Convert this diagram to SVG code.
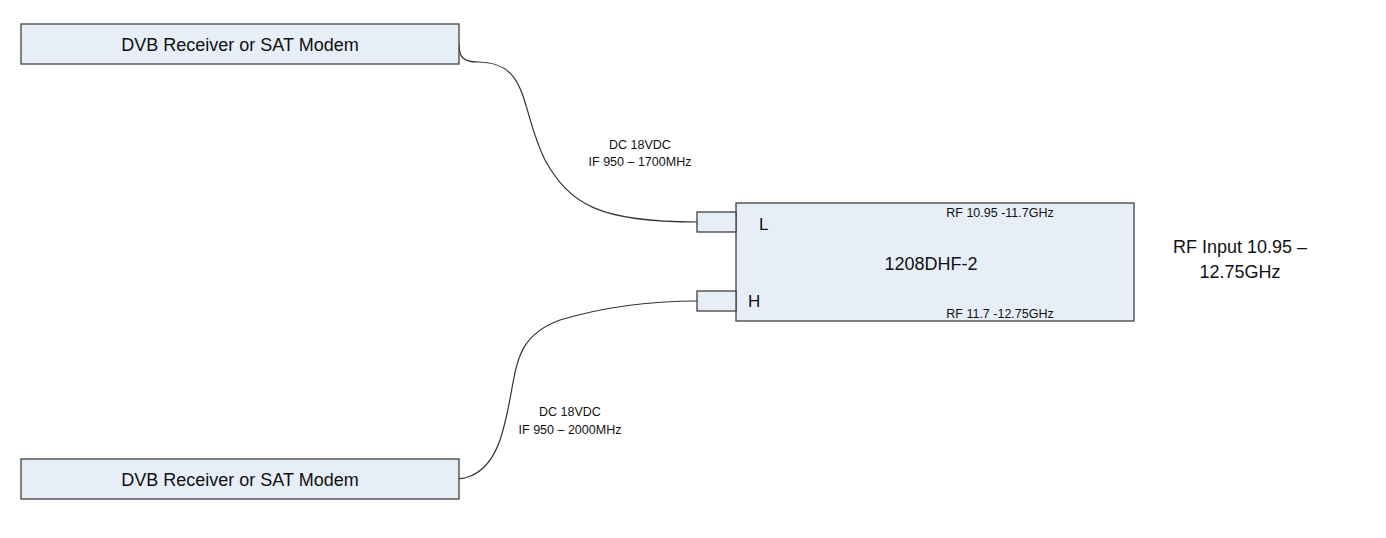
<svg xmlns="http://www.w3.org/2000/svg" width="1386" height="538" viewBox="0 0 1386 538">
<style>
.box{fill:#e8eef7;stroke:#404040;stroke-width:1.3}
.wire{fill:none;stroke:#333;stroke-width:1.2}
text{font-family:"Liberation Sans",Arial,sans-serif;fill:#111}
</style>
<rect width="1386" height="538" fill="#fff"/>
<g id="conn">
<path class="wire" d="M459,44 C459,56 462,62 478,62 C530,62 520,110 545,160 C570,205 600,222 697,222"/>
<path class="wire" d="M459,478 C450,478 484,486 500,440 C520,380 505,340 560,320 C610,305 660,301 697,301"/>
</g>
<g id="dvb1"><rect class="box" x="21" y="24" width="438" height="40"/><text x="240" y="51" font-size="18" text-anchor="middle">DVB Receiver or SAT Modem</text></g>
<g id="dvb2"><rect class="box" x="21" y="459" width="438" height="40"/><text x="240" y="486" font-size="18" text-anchor="middle">DVB Receiver or SAT Modem</text></g>
<g id="lnb">
<rect class="box" x="736" y="203" width="398" height="118"/>
<rect class="box" x="697" y="212" width="39" height="20"/>
<rect class="box" x="697" y="291" width="39" height="20"/>
<text x="759" y="230" font-size="17">L</text>
<text x="748" y="307" font-size="17">H</text>
<text x="931" y="270" font-size="18" text-anchor="middle">1208DHF-2</text>
<text x="1000" y="217" font-size="12.5" text-anchor="middle">RF 10.95 -11.7GHz</text>
<text x="1000" y="318" font-size="12.5" text-anchor="middle">RF 11.7 -12.75GHz</text>
</g>
<g id="labels">
<text x="640" y="149" font-size="12.5" text-anchor="middle">DC 18VDC</text>
<text x="640" y="166" font-size="12.5" text-anchor="middle">IF 950 – 1700MHz</text>
<text x="570" y="416" font-size="12.5" text-anchor="middle">DC 18VDC</text>
<text x="570" y="434" font-size="12.5" text-anchor="middle">IF 950 – 2000MHz</text>
<text x="1240" y="253" font-size="18" text-anchor="middle">RF Input 10.95 –</text>
<text x="1240" y="278" font-size="18" text-anchor="middle">12.75GHz</text>
</g>
</svg>
